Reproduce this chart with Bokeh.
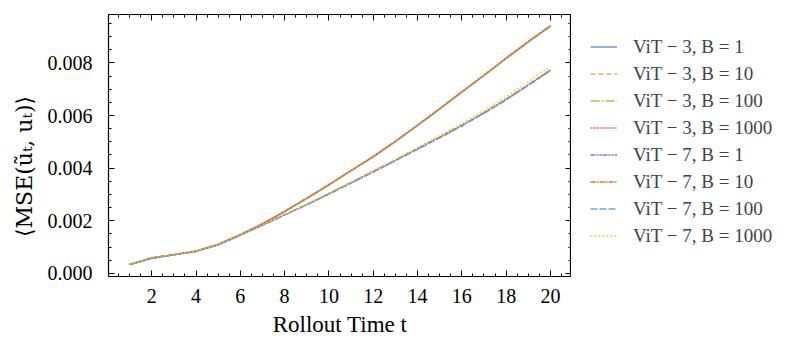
from bokeh.plotting import figure
from bokeh.layouts import row
from bokeh.models import (Range1d, LinearAxis, FixedTicker,
                          NumeralTickFormatter, Legend, LegendItem)
from bokeh.embed import file_html
from bokeh.resources import INLINE

t = list(range(1, 21))

vit3_b1 = [0.00033, 0.00058, 0.00071, 0.00084, 0.00110, 0.00147, 0.00188, 0.00235, 0.00285, 0.00336,
           0.00390, 0.00443, 0.00501, 0.00562, 0.00625, 0.00689, 0.00752, 0.00817, 0.00880, 0.00940]
vit3_b10 = [0.00034, 0.00060, 0.00072, 0.00085, 0.00111, 0.00147, 0.00189, 0.00236, 0.00286, 0.00337,
            0.00391, 0.00444, 0.00502, 0.00563, 0.00626, 0.00690, 0.00753, 0.00818, 0.00881, 0.00941]
vit3_b100 = [0.00033, 0.00058, 0.00071, 0.00084, 0.00110, 0.00146, 0.00187, 0.00234, 0.00284, 0.00335,
             0.00389, 0.00442, 0.00500, 0.00561, 0.00624, 0.00688, 0.00751, 0.00816, 0.00879, 0.00938]
vit3_b1000 = [0.00034, 0.00059, 0.00072, 0.00085, 0.00111, 0.00148, 0.00189, 0.00236, 0.00286, 0.00338,
              0.00392, 0.00445, 0.00503, 0.00564, 0.00627, 0.00691, 0.00754, 0.00819, 0.00882, 0.00943]
vit7_b1 = [0.00033, 0.00057, 0.00070, 0.00083, 0.00108, 0.00145, 0.00183, 0.00222, 0.00261, 0.00302,
           0.00344, 0.00386, 0.00429, 0.00473, 0.00517, 0.00562, 0.00610, 0.00661, 0.00716, 0.00772]
vit7_b10 = [0.00034, 0.00058, 0.00071, 0.00084, 0.00109, 0.00146, 0.00184, 0.00223, 0.00262, 0.00303,
            0.00345, 0.00387, 0.00430, 0.00474, 0.00518, 0.00563, 0.00611, 0.00662, 0.00717, 0.00774]
vit7_b100 = [0.00033, 0.00057, 0.00070, 0.00083, 0.00108, 0.00144, 0.00182, 0.00221, 0.00260, 0.00301,
             0.00343, 0.00385, 0.00428, 0.00471, 0.00515, 0.00560, 0.00608, 0.00659, 0.00714, 0.00770]
vit7_b1000 = [0.00035, 0.00060, 0.00072, 0.00085, 0.00110, 0.00147, 0.00185, 0.00224, 0.00264, 0.00306,
              0.00348, 0.00391, 0.00434, 0.00479, 0.00524, 0.00570, 0.00619, 0.00671, 0.00728, 0.00786]

series = [vit3_b1, vit3_b10, vit3_b100, vit3_b1000, vit7_b1, vit7_b10, vit7_b100, vit7_b1000]
labels = ["ViT − 3, B = 1", "ViT − 3, B = 10", "ViT − 3, B = 100", "ViT − 3, B = 1000",
          "ViT − 7, B = 1", "ViT − 7, B = 10", "ViT − 7, B = 100", "ViT − 7, B = 1000"]
colors = ["#5b7fc4", "#eaa53c", "#98bd3c", "#e9573f", "#7b6cc0", "#cf6d25", "#63a2d8", "#f6c431"]
dashes = ["solid", "5 3", "9 2 2 2", "2 1", "5 1 2 1 2 1", "5 1 2 1", "7 2", "2 2"]

x_major = [2, 4, 6, 8, 10, 12, 14, 16, 18, 20]
x_minor = [k * 0.5 for k in range(1, 42)]
y_major = [0.0, 0.002, 0.004, 0.006, 0.008]
y_minor = [k * 0.0005 for k in range(0, 20)]

FONT = "Liberation Serif"

p = figure(width=571, height=346, output_backend="svg", toolbar_location=None,
           x_range=Range1d(0.05, 20.95), y_range=Range1d(-0.00012, 0.00984),
           min_border_left=108, min_border_right=0, min_border_top=10, min_border_bottom=70,
           x_axis_location=None, y_axis_location=None)
p.xgrid.visible = False
p.ygrid.visible = False
p.outline_line_color = "black"
p.outline_line_width = 1.2
p.background_fill_color = "white"
p.border_fill_color = "white"


def style(ax):
    ax.axis_line_color = None
    ax.major_tick_in = 6
    ax.major_tick_out = 0
    ax.minor_tick_in = 3
    ax.minor_tick_out = 0
    ax.major_tick_line_color = "black"
    ax.minor_tick_line_color = "black"
    ax.major_tick_line_width = 1
    ax.minor_tick_line_width = 1
    ax.major_label_text_font = FONT
    ax.axis_label_text_font = FONT
    ax.axis_label_text_font_style = "normal"
    ax.axis_label_text_color = "black"
    ax.major_label_text_color = "black"
    ax.major_label_text_font_size = "20px"
    ax.axis_label_text_font_size = "20px"


xb = LinearAxis(ticker=FixedTicker(ticks=x_major, minor_ticks=x_minor), axis_label="Rollout Time t")
style(xb)
xb.axis_label_text_font_size = "23px"
xb.major_label_standoff = 12
xb.axis_label_standoff = 6
p.add_layout(xb, "below")

# trailing no-break spaces balance the label's measured length so it sits centred on the frame
yl = LinearAxis(ticker=FixedTicker(ticks=y_major, minor_ticks=y_minor),
                axis_label="⟨MSE(ũₜ, uₜ)⟩" + "\u00a0" * 6,
                formatter=NumeralTickFormatter(format="0.000"))
style(yl)
yl.axis_label_text_font = "DejaVu Serif"
yl.axis_label_text_font_size = "22px"
yl.major_label_standoff = 16
yl.axis_label_standoff = 8
p.add_layout(yl, "left")

# label-free tick axes for the top and right frame edges (ticks only, no text)
for side, maj, mnr in (("above", x_major, x_minor), ("right", y_major, y_minor)):
    a_major = LinearAxis(ticker=FixedTicker(ticks=[], minor_ticks=maj))
    style(a_major)
    a_major.minor_tick_in = 6
    a_major.major_label_standoff = 0
    p.add_layout(a_major, side)
    a_minor = LinearAxis(ticker=FixedTicker(ticks=[], minor_ticks=mnr))
    style(a_minor)
    a_minor.major_label_standoff = 0
    p.add_layout(a_minor, side)

for ys, col, dash in zip(series, colors, dashes):
    p.line(t, ys, line_color=col, line_dash=dash, line_width=1.4, line_alpha=0.9)

# legend panel (its own frame; the series lie outside its visible range)
lg = figure(width=222, height=346, output_backend="svg", toolbar_location=None,
            x_range=Range1d(-3, -2), y_range=Range1d(-3, -2),
            min_border_left=0, min_border_right=0, min_border_top=14, min_border_bottom=0,
            x_axis_location=None, y_axis_location=None)
lg.xgrid.visible = False
lg.ygrid.visible = False
lg.outline_line_color = None
lg.border_fill_color = "white"
lg.background_fill_color = "white"

items = []
for ys, lab, col, dash in zip(series, labels, colors, dashes):
    r = lg.line(t, ys, line_color=col, line_dash=dash, line_width=1.4, line_alpha=0.9)
    items.append(LegendItem(label=lab, renderers=[r]))

legend = Legend(items=items, location="top_left", padding=19, margin=0,
                glyph_width=27, glyph_height=27, label_height=27, spacing=0,
                label_standoff=16, label_text_font=FONT, label_text_font_size="19px",
                background_fill_alpha=0, border_line_alpha=0)
lg.add_layout(legend, "center")

layout = row(p, lg, spacing=0)
open("out.html", "w").write(file_html(layout, INLINE))
